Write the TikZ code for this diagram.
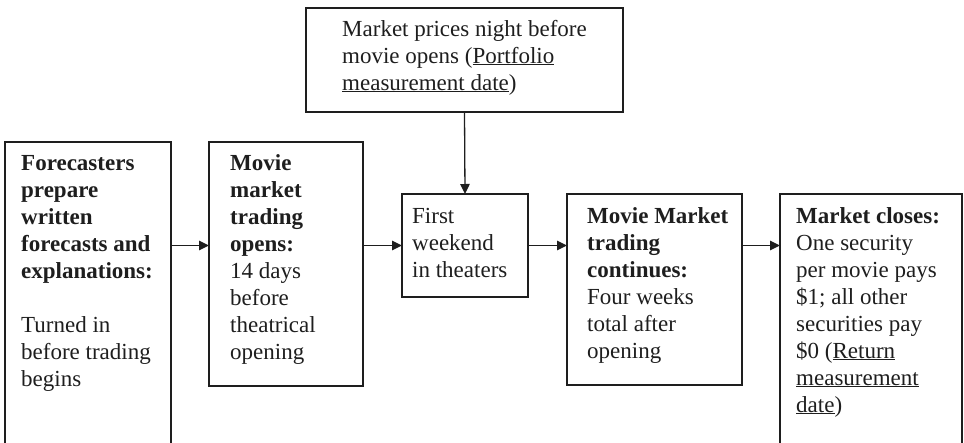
\documentclass[tikz,border=0pt]{standalone}
\usepackage{fontspec}
\setmainfont{Liberation Serif}
\usetikzlibrary{positioning, calc, arrows.meta}

\definecolor{ink}{HTML}{1E1E1E}

\begin{document}
\begin{tikzpicture}[
    x=1pt, y=-1pt,
    stage/.style={draw=ink, line width=1.3pt, anchor=north west, inner sep=0pt, outer sep=0pt},
    stagetext/.style={anchor=base west, inner sep=0pt, text=ink, font=\fontsize{23}{27}\selectfont},
    arrow/.style={-{Triangle[length=10pt, width=9.5pt]}, line width=1.3pt, draw=ink}
]

    \useasboundingbox (0,0) rectangle (964,442);
    \clip (0,0) rectangle (964,442);

    % Boxes
    \node[stage, minimum width=317pt, minimum height=104pt] (prices) at (306,8) {};
    \node[stage, minimum width=166pt, minimum height=320pt] (forecast) at (5,142) {};
    \node[stage, minimum width=154pt, minimum height=244pt] (opens) at (209,142) {};
    \node[stage, minimum width=126pt, minimum height=103pt] (weekend) at (402,194) {};
    \node[stage, minimum width=175pt, minimum height=191pt] (continues) at (567,194) {};
    \node[stage, minimum width=182pt, minimum height=300pt] (closes) at (780,194) {};

    % Texts
    \node[stagetext] (prices-txt) at ([shift={(36,28)}]prices.north west)
        {\parbox[t]{300pt}{Market prices night before\\
        movie opens (\underline{Portfolio}\\
        \underline{measurement date})}};
    \node[stagetext] (forecast-txt) at ([shift={(16,28)}]forecast.north west)
        {\parbox[t]{160pt}{\textbf{Forecasters}\\ \textbf{prepare}\\ \textbf{written}\\
        \textbf{forecasts and}\\ \textbf{explanations:}\\ \strut\\
        Turned in\\ before trading\\ begins}};
    \node[stagetext] (opens-txt) at ([shift={(21,28)}]opens.north west)
        {\parbox[t]{150pt}{\textbf{Movie}\\ \textbf{market}\\ \textbf{trading}\\ \textbf{opens:}\\
        14 days\\ before\\ theatrical\\ opening}};
    \node[stagetext] (weekend-txt) at ([shift={(10,29)}]weekend.north west)
        {\parbox[t]{120pt}{First\\ weekend\\ in theaters}};
    \node[stagetext] (continues-txt) at ([shift={(20,29)}]continues.north west)
        {\parbox[t]{170pt}{\textbf{Movie Market}\\ \textbf{trading}\\ \textbf{continues:}\\
        Four weeks\\ total after\\ opening}};
    \node[stagetext] (closes-txt) at ([shift={(16,29)}]closes.north west)
        {\parbox[t]{180pt}{\textbf{Market closes:}\\ One security\\ per movie pays\\
        \$1; all other\\ securities pay\\ \$0 (\underline{Return}\\
        \underline{measurement}\\ \underline{date})}};

    % Connections
    \draw[arrow] (prices.south) -- (weekend.north);
    \draw[arrow] (forecast.east |- weekend.west) -- (opens.west |- weekend.west);
    \draw[arrow] (opens.east |- weekend.west) -- (weekend.west);
    \draw[arrow] (weekend.east) -- (continues.west |- weekend.east);
    \draw[arrow] (continues.east |- weekend.east) -- (closes.west |- weekend.east);

\end{tikzpicture}
\end{document}
